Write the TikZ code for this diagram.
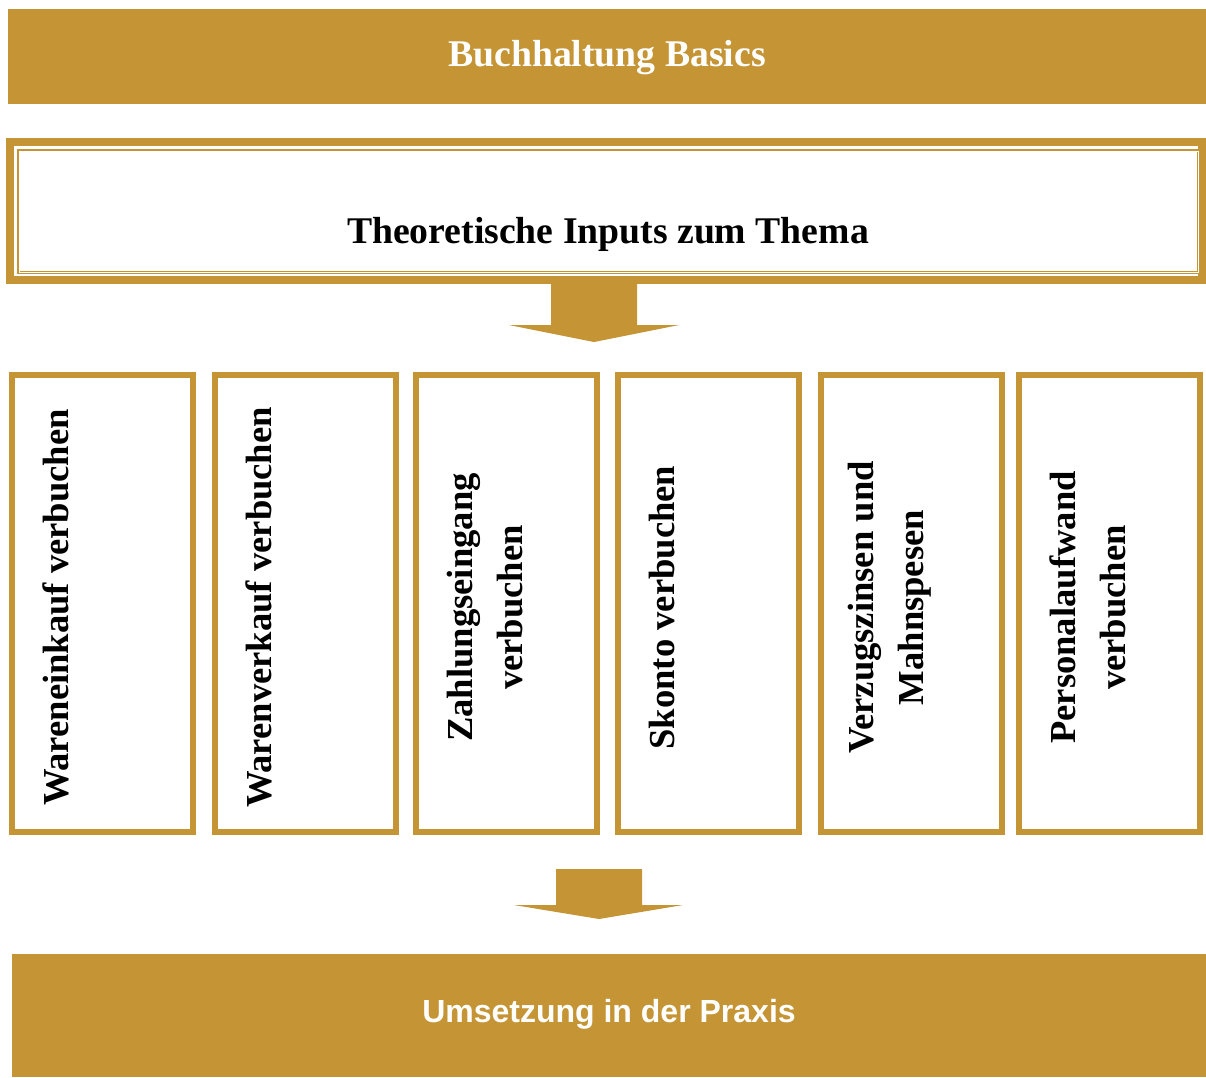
\documentclass[tikz,border=0pt]{standalone}
\usepackage{fontspec}
\setmainfont{Liberation Serif}
\setsansfont{Liberation Sans}
\usetikzlibrary{positioning,calc}
\definecolor{gold}{RGB}{196,148,53}

\begin{document}
\begin{tikzpicture}[x=1pt,y=-1pt,
    bar/.style={fill=gold,text=white,inner sep=0pt},
    kasten/.style={draw=gold,line width=6pt,minimum width=181pt,minimum height=457pt,inner sep=0pt},
    titel/.style={rotate=90,align=center,font=\bfseries\fontsize{36.6}{50}\selectfont}]
  \useasboundingbox (0,0) rectangle (1206,1077);
  % Kopf
  \node[bar,minimum width=1198pt,minimum height=95pt] (kopf) at (607,56.5) {};
  \node[text=white,font=\bfseries\fontsize{37.7}{40}\selectfont] (basics) at (607,58) {Buchhaltung Basics};
  \node[draw=gold,line width=8pt,minimum width=1192pt,minimum height=138pt] (rahmen) at (606,211) {};
  \node[draw=gold,line width=3.2pt,minimum width=1180pt,minimum height=122pt] (innen) at (608.5,211.5) {};
  \node[draw=white,line width=0.6pt,minimum width=1178.6pt,minimum height=120.6pt] (linie) at (608.5,211.5) {};
  \node[font=\bfseries\fontsize{37.7}{40}\selectfont] (inputs) at (608,234) {Theoretische Inputs zum Thema};
  \fill[gold] (551,284)--(637,284)--(637,325)--(679,325)--(594,342)--(509,325)--(551,325)--cycle;
  % Themen
  \node[kasten] (k1) at (102.5,603.5) {};
  \node[kasten] (k2) at (305,603.5) {};
  \node[kasten] (k3) at (506,603.5) {};
  \node[kasten] (k4) at (708.5,603.5) {};
  \node[kasten] (k5) at (911,603.5) {};
  \node[kasten] (k6) at (1109,603.5) {};
  \node[titel] (t1) at ($(k1)+(-46.5,4)$) {Wareneinkauf verbuchen};
  \node[titel] (t2) at ($(k2)+(-46.5,4)$) {Warenverkauf verbuchen};
  \node[titel] (t3) at ($(k3)+(-21,4)$) {Zahlungseingang\\verbuchen};
  \node[titel] (t4) at ($(k4)+(-46.5,4)$) {Skonto verbuchen};
  \node[titel] (t5) at ($(k5)+(-21,4)$) {Verzugszinsen und\\Mahnspesen};
  \node[titel] (t6) at ($(k6)+(-21,4)$) {Personalaufwand\\verbuchen};
  \fill[gold] (556,869)--(642,869)--(642,905)--(683,905)--(599,919)--(514,905)--(556,905)--cycle;
  % Fuss
  \node[bar,minimum width=1194pt,minimum height=123pt] (praxis) at (609,1015.5) {};
  \node[text=white,font=\sffamily\bfseries\fontsize{32}{36}\selectfont] (umsetzung) at (609,1014) {Umsetzung in der Praxis};
\end{tikzpicture}
\end{document}
